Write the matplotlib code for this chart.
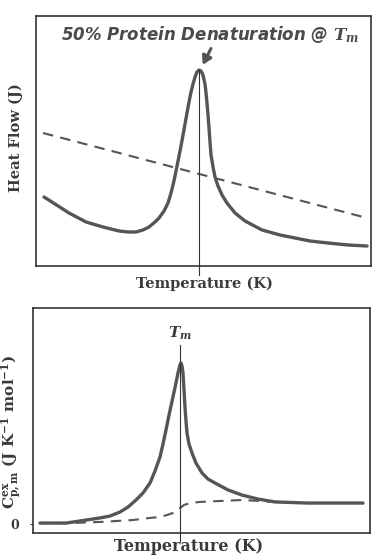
import matplotlib
matplotlib.use("Agg")
import matplotlib.pyplot as plt

plt.rcParams['mathtext.fontset'] = 'dejavuserif'

# Obere Kurve: Wärmefluss (willkürliche Einheiten)
hf_temp = [2.39, 5.67, 9.85, 14.93, 20.0, 24.78, 27.46, 29.85, 31.94, 33.73, 35.52,
           36.72, 38.21, 39.40, 40.30, 40.90, 41.49, 42.09, 42.69, 43.28, 43.88,
           44.48, 45.07, 45.67, 46.27, 46.87, 47.46, 48.06, 48.66, 49.25,
           49.85, 50.45, 50.75, 51.04, 51.34, 51.64, 51.94, 52.24, 52.84, 53.43,
           54.33, 55.52, 57.01, 59.40, 62.39, 67.46, 72.84, 77.31, 81.79, 87.16,
           93.13, 98.81]
hf_flow = [27.6, 24.8, 21.2, 17.6, 15.6, 14.0, 13.6, 13.6, 14.4, 15.6, 17.6,
           19.2, 22.0, 25.2, 29.2, 32.4, 36.0, 40.0, 44.0, 48.0, 52.4,
           56.8, 61.2, 65.6, 69.6, 72.8, 75.6, 77.6, 78.4, 78.0,
           76.4, 72.8, 69.2, 65.2, 60.4, 55.2, 49.6, 44.4, 39.6, 35.6,
           32.0, 28.4, 25.2, 21.2, 18.0, 14.4, 12.4, 11.2, 10.0, 9.2,
           8.4, 8.0]
hf_base_temp = [2.1, 98.8]
hf_base_flow = [53.2, 19.2]
hf_tm = 48.66

# Untere Kurve: Überschuss-Wärmekapazität
cp_temp = [2.08, 6.53, 9.79, 13.95, 19.88, 22.85, 25.82, 28.19, 30.56, 32.64,
           34.72, 36.20, 37.69, 38.58, 39.47, 40.36, 41.54, 42.43, 43.03, 43.62,
           43.92, 44.21, 44.51, 44.81, 45.10, 45.40, 45.70, 46.29, 47.18, 48.37,
           50.15, 51.93, 54.01, 57.86, 62.02, 66.77, 71.81, 81.60, 89.61, 97.92]
cp_val = [0.6, 0.6, 0.6, 1.9, 3.8, 5.0, 7.5, 10.6, 15.0, 19.4,
          25.6, 33.1, 41.9, 50.0, 58.8, 68.1, 79.4, 88.1, 94.4, 99.4,
          100.6, 98.8, 94.4, 83.8, 73.1, 64.4, 56.9, 50.0, 44.4, 38.1,
          31.9, 28.1, 25.6, 21.3, 18.1, 15.6, 13.8, 13.1, 13.1, 13.1]
cp_base_temp = [2.08, 10.98, 19.88, 29.67, 34.72, 37.69, 39.76, 41.54, 42.73,
                43.62, 44.81, 46.59, 49.55, 55.49, 62.02, 67.36, 71.81]
cp_base_val = [0.6, 0.6, 1.3, 2.5, 3.8, 4.4, 5.6, 6.9, 8.1,
               10.0, 11.9, 13.1, 13.8, 14.4, 15.0, 14.4, 13.8]
cp_tm = 43.62

CURVE = '#555555'
AXC = '#333333'
LABEL_FONT = dict(family='DejaVu Serif', fontweight='bold', color='#3a3a3a')

fig = plt.figure(figsize=(3.74, 5.56), dpi=100)
fig.patch.set_facecolor('white')

ax1 = fig.add_axes([0.0963, 0.5216, 0.8957, 0.4496])
ax2 = fig.add_axes([0.0882, 0.0414, 0.9011, 0.4047])

# --- oben ---
ax1.plot(hf_temp, hf_flow, color=CURVE, lw=2.4, solid_capstyle='round',
         solid_joinstyle='round')
ax1.plot(hf_base_temp, hf_base_flow, color=CURVE, lw=1.5, dashes=(5, 3.5))
ax1.plot([hf_tm, hf_tm], [max(hf_flow), -3.5], color=AXC, lw=0.8, clip_on=False)
ax1.set_xlim(0, 100)
ax1.set_ylim(0, 100)
ax1.annotate('', xy=(49.4, 79.5), xytext=(52.6, 88.0),
             arrowprops=dict(arrowstyle='-|>,head_length=0.5,head_width=0.3',
                             color=CURVE, lw=2.2))
ax1.text(51.9, 92.8, r'50% Protein Denaturation @ $\mathbfit{T}_{\mathbfit{m}}$',
         ha='center', va='center', fontsize=12, fontweight='bold',
         fontstyle='italic', color='#4a4a4a')
ax1.set_xticks([])
ax1.set_yticks([])
ax1.set_xlabel('Temperature (K)', fontsize=10.5, **LABEL_FONT)
ax1.xaxis.set_label_coords(0.504, -0.044)
ax1.set_ylabel('Heat Flow (J)', fontsize=10.5, **LABEL_FONT)
ax1.yaxis.set_label_coords(-0.039, 0.512)

# --- unten ---
ax2.plot(cp_temp, cp_val, color=CURVE, lw=2.4, solid_capstyle='round',
         solid_joinstyle='round')
ax2.plot(cp_base_temp, cp_base_val, color=CURVE, lw=1.5, dashes=(5, 3.5))
ax2.plot([cp_tm, cp_tm], [112, -10.6], color=AXC, lw=0.8, clip_on=False)
ax2.set_xlim(0, 100)
ax2.set_ylim(-5.6, 135)
ax2.text(cp_tm, 119.4, r'$\mathbfit{T}_{\mathbfit{m}}$', ha='center', va='center',
         fontsize=11, color='#3a3a3a')
ax2.set_xticks([])
ax2.set_yticks([0])
ax2.set_yticklabels(['0'], fontsize=9, **LABEL_FONT)
ax2.tick_params(axis='y', length=2, color=AXC, pad=8)
ax2.set_xlabel('Temperature (K)', fontsize=11.5, **LABEL_FONT)
ax2.xaxis.set_label_coords(0.463, -0.022)
ax2.set_ylabel(r'$\mathbf{C}_{\mathbf{p,m}}^{\mathbf{ex}}$ (J K$^{\mathbf{-1}}$ mol$^{\mathbf{-1}}$)',
               fontsize=11, **LABEL_FONT)
ax2.yaxis.set_label_coords(-0.030, 0.449)

for ax in (ax1, ax2):
    for sp in ax.spines.values():
        sp.set_color(AXC)
        sp.set_linewidth(1.2)

fig.savefig('out.png', dpi=100)
